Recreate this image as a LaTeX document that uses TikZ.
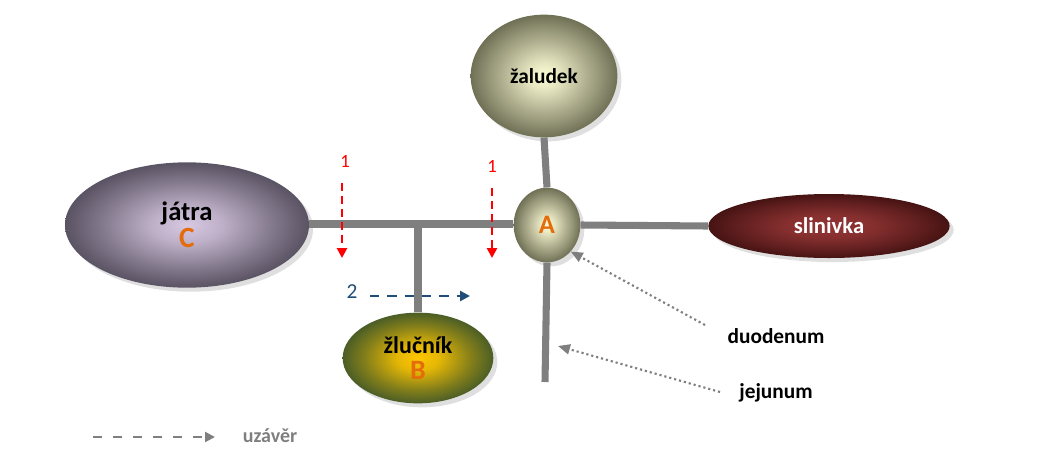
\documentclass[tikz,border=0pt]{standalone}
\usepackage{fontspec}
\setmainfont{Carlito}
\usetikzlibrary{shapes.geometric,shadows,arrows.meta}

\definecolor{ductgray}{HTML}{7F7F7F}
\definecolor{letter}{HTML}{E46C0A}
\definecolor{closureblue}{HTML}{1F4E79}
\definecolor{liverin}{HTML}{D8C8E2}
\definecolor{liverout}{HTML}{5A5363}
\definecolor{stomachin}{HTML}{FFFFD8}
\definecolor{stomachout}{HTML}{707056}
\definecolor{pancin}{HTML}{923434}
\definecolor{pancout}{HTML}{461313}
\definecolor{gallin}{HTML}{FFC600}
\definecolor{gallout}{HTML}{4B5E26}

% soft radial gradients for the organs (the path box maps to radius 25bp)
\pgfdeclareradialshading{liverglow}{\pgfpointorigin}{color(0bp)=(liverin);
  color(7bp)=(liverin!80!liverout); color(18bp)=(liverin!30!liverout);
  color(25bp)=(liverout); color(50bp)=(liverout)}
\pgfdeclareradialshading{stomachglow}{\pgfpointorigin}{color(0bp)=(stomachin);
  color(6bp)=(stomachin!80!stomachout); color(18bp)=(stomachin!30!stomachout);
  color(25bp)=(stomachout); color(50bp)=(stomachout)}
\pgfdeclareradialshading{pancglow}{\pgfpointorigin}{color(0bp)=(pancin);
  color(9bp)=(pancin!85!pancout); color(19bp)=(pancin!35!pancout);
  color(25bp)=(pancout); color(50bp)=(pancout)}
\pgfdeclareradialshading{gallglow}{\pgfpointorigin}{color(0bp)=(gallin);
  color(7bp)=(gallin!85!gallout); color(18bp)=(gallin!30!gallout);
  color(25bp)=(gallout); color(50bp)=(gallout)}

\begin{document}
\begin{tikzpicture}[x=0.75pt,y=-0.75pt,
  organ/.style={ellipse, inner sep=0pt, align=center,
    font=\bfseries\fontsize{16}{20}\selectfont,
    drop shadow={shadow xshift=3pt, shadow yshift=-3pt, fill=black!25}},
  duct/.style={draw=ductgray, line width=5.3pt},
  closure/.style={line width=2pt, -{Triangle[length=7.5pt,width=7.5pt]}},
  pointer/.style={draw=ductgray, line width=1.6pt, dash pattern=on 1.6pt off 2.2pt,
    -{Triangle[length=9pt,width=7.5pt]}},
  caption/.style={font=\bfseries\fontsize{16}{18}\selectfont},
  number/.style={font=\fontsize{14}{16}\selectfont}]
\useasboundingbox (0,0) rectangle (1041,475);

\coordinate (junction) at (418,224);
\coordinate (jejend) at (545,382);

% organs
\node[organ, minimum width=183pt, minimum height=94pt, shading=liverglow] (liver) at (187,225)
  {\fontsize{20}{25}\selectfont játra\\{\color{letter}\fontsize{22}{22}\selectfont C}};
\node[organ, minimum width=110pt, minimum height=92pt, shading=stomachglow] (stomach) at (544,76)
  {žaludek};
\node[organ, minimum width=50pt, minimum height=56pt, shading=stomachglow] (A) at (547,225)
  {\color{letter}\fontsize{20}{20}\selectfont A};
\node[organ, minimum width=181pt, minimum height=48pt, shading=pancglow, text=white] (pancreas) at (829,226)
  {\fontsize{17}{20}\selectfont slinivka};
\node[organ, minimum width=113pt, minimum height=68pt, shading=gallglow] (gall) at (418,358)
  {\fontsize{18}{24}\selectfont žlučník\\{\color{letter}\fontsize{21}{21}\selectfont B}};

% ducts
\draw[duct] (liver.east |- junction) -- (A.west |- junction);
\draw[duct] (junction) -- (gall.north);
\draw[duct] (stomach.south) -- (A.north);
\draw[duct] (A.east) -- (pancreas.west);
\draw[duct] (A.south) -- (jejend);

% closures
\node[number, text=red] (one1) at (345,161) {1};
\node[number, text=red] (one2) at (492,166) {1};
\coordinate (c1s) at (342,183);
\coordinate (c1e) at (342,258);
\coordinate (c2s) at (492,188);
\coordinate (c2e) at (492,258);
\draw[closure, red, dash pattern=on 6pt off 3.7pt] (c1s) -- (c1e);
\draw[closure, red, dash pattern=on 6pt off 3.7pt] (c2s) -- (c2e);

\node[number, text=closureblue, font=\fontsize{16}{18}\selectfont] (two) at (352,292) {2};
\coordinate (c3s) at (370,296);
\coordinate (c3e) at (470,296);
\draw[closure, closureblue, line width=1.9pt, dash pattern=on 7pt off 6pt] (c3s) -- (c3e);

% labels with pointers
\node[caption] (duo) at (776,336) {duodenum};
\node[caption] (jej) at (776,393) {jejunum};
\coordinate (duos) at (705,325);
\coordinate (jejs) at (720,392);
\coordinate (jejt) at (558,346);
\draw[pointer] (duos) -- (A.south east);
\draw[pointer] (jejs) -- (jejt);

% legend
\coordinate (legs) at (93,437);
\coordinate (lege) at (215,437);
\draw[ductgray, line width=1.7pt, dash pattern=on 6.75pt off 8.25pt,
  -{Triangle[length=7.5pt,width=7.5pt]}] (legs) -- (lege);
\node[caption, text=ductgray, font=\bfseries\fontsize{15}{18}\selectfont] (legend) at (270,436) {uzávěr};
\end{tikzpicture}
\end{document}
